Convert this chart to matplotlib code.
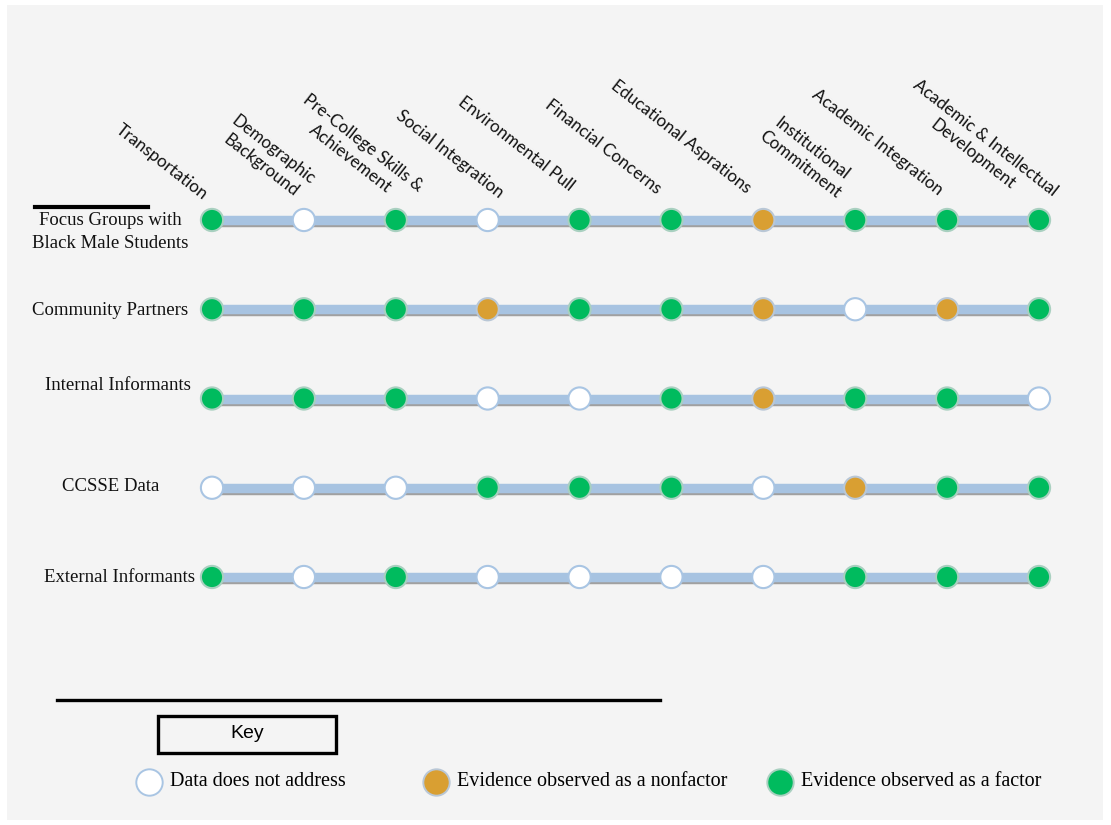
import matplotlib
matplotlib.use('Agg')
import matplotlib.pyplot as plt
import matplotlib.patheffects as pe
import matplotlib.transforms as mtransforms
from matplotlib.patches import Rectangle
from matplotlib.lines import Line2D

# ---------------- data ----------------
factors = ["Transportation", "Demographic\nBackground", "Pre-College Skills &\nAchievement",
           "Social Integration", "Environmental Pull", "Financial Concerns",
           "Educational Asprations", "Institutional\nCommitment", "Academic Integration",
           "Academic & Intellectual\nDevelopment"]
sources = ["Focus Groups with\nBlack Male Students", "Community Partners",
           "Internal Informants", "CCSSE Data", "External Informants"]
# status codes: 0 = data does not address, 1 = nonfactor, 2 = factor
focus_groups = [2, 0, 2, 0, 2, 2, 1, 2, 2, 2]
community_partners = [2, 2, 2, 1, 2, 2, 1, 0, 1, 2]
internal_informants = [2, 2, 2, 0, 0, 2, 1, 2, 2, 0]
ccsse_data = [0, 0, 0, 2, 2, 2, 0, 1, 2, 2]
external_informants = [2, 0, 2, 0, 0, 0, 0, 2, 2, 2]
legend_labels = ["Data does not address", "Evidence observed as a nonfactor",
                 "Evidence observed as a factor"]

rows = [focus_groups, community_partners, internal_informants, ccsse_data, external_informants]

# ---------------- style / layout ----------------
W, H = 1111, 825
status_face = ['#ffffff', '#d99f32', '#00bb5e']
status_edge = ['#a9c5e3', '#b9c7d6', '#a9d0c0']
line_color = '#a7c3e1'
serif = ['Liberation Serif', 'DejaVu Serif']
sans = ['Lato', 'DejaVu Sans']
# pixel offsets (right, up) of each column label's start relative to its column / first row
label_dx = [-89, -66, -86, -85, -115, -119, -145, -77, -128, -119]
label_dy = [99, 108, 129, 113, 126, 123, 143, 108, 134, 143]


def fx(x):
    return x / W


def fy(y):
    return 1 - y / H


fig = plt.figure(figsize=(W / 100, H / 100), dpi=100)
fig.patch.set_facecolor('white')
fig.add_artist(Rectangle((fx(7), fy(820)), fx(1103) - fx(7), fy(5) - fy(820),
                         transform=fig.transFigure, facecolor='#f4f4f4',
                         edgecolor='none', zorder=0))

# axes for the matrix (columns at data x 0..9, rows at data y 0..4)
ax = fig.add_axes([fx(212), fy(577), fx(1039) - fx(212), fy(220) - fy(577)])
ax.set_xlim(0, len(factors) - 1)
ax.set_ylim(len(sources) - 1, 0)
ax.axis('off')
ax.patch.set_alpha(0)

xs = list(range(len(factors)))
for r, vals in enumerate(rows):
    ax.plot(xs, [r] * len(xs), color=line_color, lw=6.8, solid_capstyle='butt',
            clip_on=False, zorder=2,
            path_effects=[pe.SimpleLineShadow(offset=(0, -1.6), shadow_color='#7d7d7d', alpha=0.7),
                          pe.Normal()])
    ax.scatter(xs, [r] * len(xs), s=16 ** 2,
               c=[status_face[v] for v in vals],
               edgecolors=[status_edge[v] for v in vals],
               linewidths=1.5, clip_on=False, zorder=3)

# column labels
for i, lab in enumerate(factors):
    tr = mtransforms.offset_copy(ax.transData, fig=fig, x=label_dx[i], y=label_dy[i], units='dots')
    ax.text(i, 0, lab, transform=tr, rotation=-38, rotation_mode='anchor',
            ha='left', va='top', multialignment='center', linespacing=1.3,
            fontsize=12.3, family=sans, color='#111111')

# row labels
row_label_x = [110, 188, 191, 111, 195]
row_label_ha = ['center', 'right', 'right', 'center', 'right']
row_label_dy = [12, 1, -13, -1, 1]
for r, lab in enumerate(sources):
    tr = mtransforms.blended_transform_factory(fig.transFigure, ax.transData)
    tr = mtransforms.offset_copy(tr, fig=fig, x=0, y=-row_label_dy[r], units='dots')
    ax.text(fx(row_label_x[r]), r, lab, transform=tr, ha=row_label_ha[r], va='center',
            multialignment='center', fontsize=13.5, family=serif, color='#111111',
            linespacing=1.5)

# decorative bar above first row label
fig.add_artist(Line2D([fx(35), fx(148)], [fy(207), fy(207)], color='black', lw=3,
                      transform=fig.transFigure))

# key section
fig.add_artist(Line2D([fx(57), fx(660)], [fy(700), fy(700)], color='black', lw=2.4,
                      transform=fig.transFigure))
fig.add_artist(Rectangle((fx(158), fy(753)), fx(336) - fx(158), fy(716) - fy(753),
                         transform=fig.transFigure, facecolor='none',
                         edgecolor='black', lw=2.4))
fig.text(fx(247), fy(733), "Key", ha='center', va='center', fontsize=14,
         family=['Liberation Sans', 'DejaVu Sans'], color='black')

legend_marker_x = [149, 436, 780]
for k, lab in enumerate(legend_labels):
    fig.add_artist(Line2D([fx(legend_marker_x[k])], [fy(782)], marker='o', markersize=19,
                          markerfacecolor=status_face[k], markeredgecolor=status_edge[k],
                          markeredgewidth=1.4, linestyle='none',
                          transform=fig.transFigure))
    fig.text(fx(legend_marker_x[k] + 21), fy(781), lab, ha='left', va='center',
             fontsize=14.5, family=serif, color='black')

fig.savefig('out.png', dpi=100, facecolor='white')
